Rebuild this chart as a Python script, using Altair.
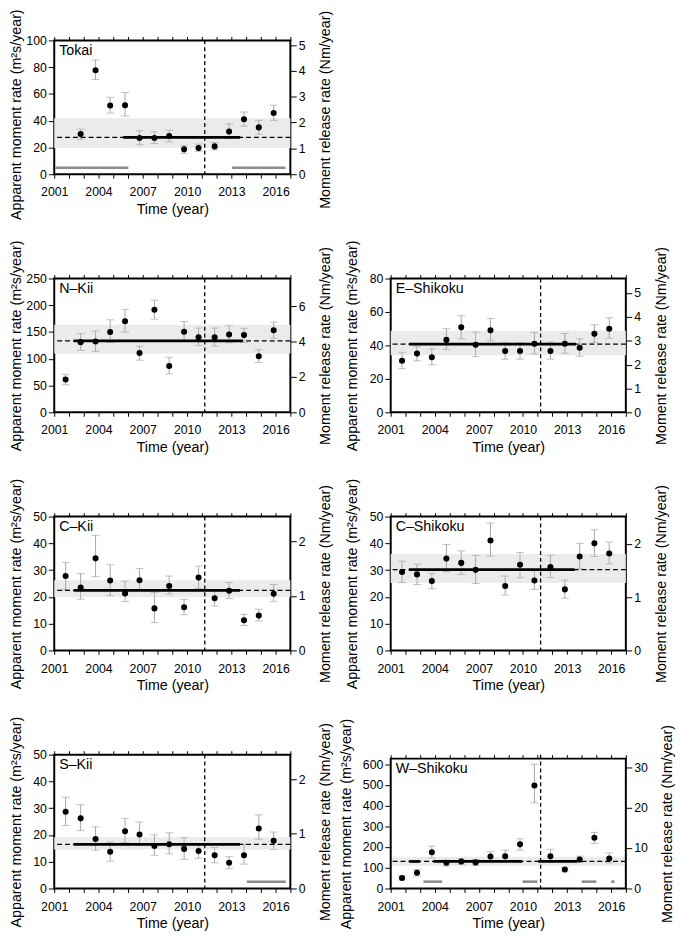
import altair as alt
import pandas as pd

FONT = "Liberation Sans"
LFS = 12.5   # tick label size
TFS = 14.5   # axis title size

# time of each estimate (year)
X = [2001.77, 2002.79, 2003.80, 2004.79, 2005.80, 2006.78, 2007.79, 2008.79,
     2009.80, 2010.78, 2011.87, 2012.85, 2013.86, 2014.86, 2015.87]
QUAKE = 2011.2

# ---- Tokai ----
tok_v = [None, 30.1, 77.7, 51.3, 51.6, 27.1, 27.1, 28.6, 18.6, 19.6, 20.8, 32.0, 41.1, 35.0, 45.7]
tok_lo = [None, 25.9, 70.7, 45.7, 43.5, 22.0, 23.0, 24.2, 15.6, 17.1, 18.1, 26.7, 35.9, 29.8, 40.3]
tok_hi = [None, 33.7, 85.3, 57.5, 61.1, 32.5, 31.8, 32.8, 21.5, 22.5, 23.7, 37.7, 46.5, 40.3, 51.6]
tok_band = [19.6, 41.8]
tok_mean = 27.6
tok_solid = [[2005.67, 2013.6]]
tok_bars = [[2001.07, 2006.02, 4.9], [2013.05, 2016.67, 4.9]]

# ---- N-Kii ----
nk_v = [61.3, 131.1, 132.4, 150.1, 170.3, 110.9, 191.8, 86.4, 150.7, 140.3, 140.3, 145.2, 144.6, 104.8, 153.2]
nk_lo = [51.5, 115.8, 114.0, 130.5, 150.1, 97.4, 174.0, 71.7, 133.6, 125.0, 123.8, 130.0, 130.5, 93.1, 138.5]
nk_hi = [71.0, 147.0, 152.0, 172.8, 192.4, 123.8, 209.6, 102.9, 169.7, 157.5, 157.5, 161.8, 156.9, 117.0, 168.5]
nk_band = [109.7, 163.6]
nk_mean = 133.6
nk_solid = [[2002.32, 2013.77]]

# ---- E-Shikoku ----
es_v = [30.8, 35.1, 32.9, 43.3, 50.8, 40.4, 49.0, 36.7, 36.7, 41.0, 36.7, 41.0, 38.6, 46.9, 50.0]
es_lo = [26.1, 30.8, 28.4, 37.5, 43.9, 33.3, 42.7, 31.8, 31.8, 34.9, 31.8, 35.3, 33.5, 41.8, 44.3]
es_hi = [35.9, 39.2, 38.0, 50.0, 57.8, 48.0, 56.1, 41.6, 41.6, 47.8, 42.0, 47.1, 43.9, 52.4, 56.5]
es_band = [34.1, 48.8]
es_mean = 40.8
es_solid = [[2002.25, 2013.61]]

# ---- C-Kii ----
ck_v = [27.8, 23.5, 34.4, 26.1, 21.3, 26.2, 15.7, 24.1, 16.1, 27.2, 19.5, 22.3, 11.3, 13.0, 21.2]
ck_lo = [22.7, 19.1, 27.6, 20.5, 18.3, 22.7, 10.4, 21.1, 13.3, 23.2, 16.6, 19.4, 9.3, 11.0, 18.2]
ck_hi = [32.9, 28.7, 43.0, 32.0, 25.9, 30.6, 21.7, 27.8, 19.1, 31.5, 22.3, 25.4, 13.5, 15.4, 24.6]
ck_band = [19.9, 26.2]
ck_mean = 22.4
ck_solid = [[2002.32, 2013.59]]

# ---- C-Shikoku ----
cs_v = [29.3, 28.4, 25.9, 34.3, 32.7, 30.1, 41.1, 24.1, 32.0, 26.1, 31.2, 22.8, 35.1, 40.0, 36.2]
cs_lo = [25.4, 24.6, 23.0, 29.4, 28.4, 25.0, 35.2, 20.7, 27.2, 22.8, 27.2, 19.5, 30.5, 35.1, 32.3]
cs_hi = [33.3, 32.2, 28.8, 39.6, 37.2, 35.5, 47.6, 27.8, 36.6, 29.9, 35.6, 26.3, 40.0, 45.1, 40.5]
cs_band = [25.2, 36.0]
cs_mean = 30.2
cs_solid = [[2002.25, 2013.52]]

# ---- S-Kii ----
sk_v = [28.7, 26.2, 18.5, 13.7, 21.4, 20.2, 15.9, 16.5, 14.8, 14.0, 12.4, 9.6, 12.4, 22.4, 17.8]
sk_lo = [23.5, 21.7, 14.3, 10.2, 17.2, 16.1, 12.4, 13.0, 10.9, 11.3, 9.6, 7.4, 9.1, 18.4, 14.6]
sk_hi = [34.1, 31.3, 23.0, 17.4, 26.2, 24.8, 20.0, 20.8, 19.0, 16.8, 15.3, 11.9, 16.5, 27.5, 21.1]
sk_band = [14.6, 19.1]
sk_mean = 16.5
sk_solid = [[2002.32, 2013.59]]
sk_bars = [[2014.06, 2016.69, 2.5]]

# ---- W-Shikoku ----
ws_v = [51, 76, 175, 124, 130.5, 126, 154, 156, 213, 497, 156, 92, 140, 245, 145]
ws_lo = [41, 60, 148, 108, 116, 111, 135, 130, 185, 414, 126, 80, 126, 218, 124]
ws_hi = [60, 92, 205, 137, 145, 140, 177, 185, 240, 600, 189, 103, 156, 271, 172]
ws_band = [110, 153]
ws_mean = 130.5
ws_solid = [[2002.26, 2003.0], [2003.9, 2009.95], [2011.05, 2013.7]]
ws_bars = [[2003.23, 2004.5, 33], [2009.97, 2010.98, 33], [2013.99, 2014.99, 33], [2016.0, 2016.23, 33]]

YEARS = list(range(2001, 2018))
LEFT_TITLE = "Apparent moment rate (m²s/year)"
RIGHT_TITLE = "Moment release rate (Nm/year)"

AXIS_STYLE = dict(labelFont=FONT, titleFont=FONT, labelFontSize=LFS, titleFontSize=TFS,
                  titleFontWeight="normal", labelColor="black", titleColor="black",
                  tickColor="black", tickWidth=1, domain=False, grid=False)


def panel(name, v, lo, hi, band, mean, solid, bars, ymax, yticks, rmax, rticks,
          width, height, top=0, lpad=9, ltitle_shift=0, rtitle_shift=0):
    idx = [i for i in range(len(X)) if v[i] is not None]
    pts = pd.DataFrame({"t": [X[i] for i in idx], "v": [v[i] for i in idx],
                        "lo": [lo[i] for i in idx], "hi": [hi[i] for i in idx]})
    xs = alt.Scale(domain=[2001, 2017], nice=False, zero=False)
    if top:
        ys = alt.Scale(domain=[0, ymax], nice=False, zero=False, range=[height, top])
        rs = alt.Scale(domain=[0, rmax], nice=False, zero=False, range=[height, top])
    else:
        ys = alt.Scale(domain=[0, ymax], nice=False, zero=False)
        rs = alt.Scale(domain=[0, rmax], nice=False, zero=False)

    xbottom = alt.Axis(orient="bottom", values=YEARS, format="d", labelFlush=False,
                       labelExpr="(datum.value - 2001) % 3 == 0 ? datum.label : ''",
                       title="Time (year)", tickSize=4, labelPadding=8, titlePadding=4,
                       **AXIS_STYLE)
    yl_kw = dict(orient="left", values=yticks, title=LEFT_TITLE,
                 tickSize=6, labelPadding=2, titlePadding=lpad)
    if ltitle_shift:
        yl_kw["titleY"] = height / 2 + ltitle_shift
    yleft = alt.Axis(**yl_kw, **AXIS_STYLE)
    xtop_kw = dict(orient="top", values=YEARS, labels=False, tickSize=4, title="")
    if top:
        xtop_kw["offset"] = -top
    xtop = alt.Axis(**xtop_kw, **AXIS_STYLE)
    yr_kw = dict(orient="right", values=rticks, title=RIGHT_TITLE, titleAngle=270,
                 titleBaseline="top", tickSize=6, labelPadding=2, titlePadding=14)
    if rtitle_shift:
        yr_kw["titleY"] = height / 2 + rtitle_shift
    yright = alt.Axis(**yr_kw, **AXIS_STYLE)

    band_df = pd.DataFrame({"x1": [2001], "x2": [2017], "y1": [band[0]], "y2": [band[1]]})
    layers = [alt.Chart(band_df).mark_rect(color="#ebebeb").encode(
        x=alt.X("x1:Q", scale=xs, axis=xbottom), x2="x2:Q",
        y=alt.Y("y1:Q", scale=ys, axis=yleft), y2="y2:Q")]

    if bars:
        bars_df = pd.DataFrame({"a": [b[0] for b in bars], "b": [b[1] for b in bars],
                                "y": [b[2] for b in bars]})
        layers.append(alt.Chart(bars_df).mark_rule(color="#8c8c8c", strokeWidth=2.6).encode(
            x=alt.X("a:Q", scale=xs, axis=None), x2="b:Q",
            y=alt.Y("y:Q", scale=ys, axis=None)))

    layers.append(alt.Chart(pts).mark_rule(color="#a6a6a6", strokeWidth=1).encode(
        x=alt.X("t:Q", scale=xs, axis=None),
        y=alt.Y("lo:Q", scale=ys, axis=None), y2="hi:Q"))
    layers.append(alt.Chart(pts).transform_fold(["lo", "hi"], as_=["k", "e"]).mark_tick(
        orient="horizontal", size=8, thickness=1, color="#a6a6a6").encode(
        x=alt.X("t:Q", scale=xs, axis=None),
        y=alt.Y("e:Q", scale=ys, axis=None)))

    mean_df = pd.DataFrame({"m": [mean]})
    layers.append(alt.Chart(mean_df).mark_rule(color="black", strokeWidth=1.3,
                                               strokeDash=[5, 3]).encode(
        y=alt.Y("m:Q", scale=ys, axis=None)))
    q_df = pd.DataFrame({"e": [QUAKE]})
    layers.append(alt.Chart(q_df).mark_rule(color="black", strokeWidth=1.3,
                                            strokeDash=[4, 3]).encode(
        x=alt.X("e:Q", scale=xs, axis=None)))
    solid_df = pd.DataFrame({"a": [s[0] for s in solid], "b": [s[1] for s in solid],
                             "m": [mean] * len(solid)})
    layers.append(alt.Chart(solid_df).mark_rule(color="black", strokeWidth=2.8).encode(
        x=alt.X("a:Q", scale=xs, axis=None), x2="b:Q",
        y=alt.Y("m:Q", scale=ys, axis=None)))
    layers.append(alt.Chart(pts).mark_circle(size=38, color="black", opacity=1).encode(
        x=alt.X("t:Q", scale=xs, axis=None),
        y=alt.Y("v:Q", scale=ys, axis=None)))
    if top:
        fr_df = pd.DataFrame({"x1": [2001], "x2": [2017], "y1": [0], "y2": [ymax]})
        layers.append(alt.Chart(fr_df).mark_rect(fillOpacity=0, stroke="black",
                                                 strokeWidth=2).encode(
            x=alt.X("x1:Q", scale=xs, axis=None), x2="x2:Q",
            y=alt.Y("y1:Q", scale=ys, axis=None), y2="y2:Q"))
    lab_df = pd.DataFrame({"n": [name]})
    layers.append(alt.Chart(lab_df).mark_text(align="left", baseline="top", fontSize=14.5,
                                              font=FONT, color="black").encode(
        x=alt.value(5), y=alt.value(4 + top), text="n:N"))

    r_df = pd.DataFrame({"x": [2001.0], "r": [0.0]})
    layers.append(alt.Chart(r_df).mark_point(opacity=0).encode(
        x=alt.X("x:Q", scale=xs, axis=xtop),
        y=alt.Y("r:Q", scale=rs, axis=yright)))
    ch = alt.layer(*layers).resolve_scale(y="independent").resolve_axis(
        x="independent", y="independent")
    props = dict(width=width, height=height)
    if top:
        props["view"] = alt.ViewBackground(strokeWidth=0)
    return ch.properties(**props)


WL, WR, H = 240, 239, 136
tokai = panel("Tokai", tok_v, tok_lo, tok_hi, tok_band, tok_mean, tok_solid, tok_bars,
              100, [0, 20, 40, 60, 80, 100], 5.18, [0, 1, 2, 3, 4, 5], WL, H,
              lpad=2, ltitle_shift=7, rtitle_shift=2)
nkii = panel("N–Kii", nk_v, nk_lo, nk_hi, nk_band, nk_mean, nk_solid, [],
             250, [0, 50, 100, 150, 200, 250], 7.56, [0, 2, 4, 6], WL, H, lpad=2)
eshi = panel("E–Shikoku", es_v, es_lo, es_hi, es_band, es_mean, es_solid, [],
             80, [0, 20, 40, 60, 80], 5.61, [0, 1, 2, 3, 4, 5], WR, H, lpad=10)
ckii = panel("C–Kii", ck_v, ck_lo, ck_hi, ck_band, ck_mean, ck_solid, [],
             50, [0, 10, 20, 30, 40, 50], 2.46, [0, 1, 2], WL, H, lpad=9)
cshi = panel("C–Shikoku", cs_v, cs_lo, cs_hi, cs_band, cs_mean, cs_solid, [],
             50, [0, 10, 20, 30, 40, 50], 2.515, [0, 1, 2], WR, H, lpad=10)
skii = panel("S–Kii", sk_v, sk_lo, sk_hi, sk_band, sk_mean, sk_solid, sk_bars,
             50, [0, 10, 20, 30, 40, 50], 2.45, [0, 1, 2], WL, H, lpad=9)
wshi = panel("W–Shikoku", ws_v, ws_lo, ws_hi, ws_band, ws_mean, ws_solid, ws_bars,
             627, [0, 100, 200, 300, 400, 500, 600], 32.1, [0, 10, 20, 30], WR, H, top=4,
             lpad=9)

blank = alt.Chart(pd.DataFrame({"a": [0]})).mark_point(opacity=0).encode(
    x=alt.X("a:Q", axis=None), y=alt.Y("a:Q", axis=None)).properties(
    width=WR, height=H, view=alt.ViewBackground(strokeWidth=0))

chart = alt.concat(tokai, blank, nkii, eshi, ckii, cshi, skii, wshi, columns=2,
                   spacing={"row": 106, "column": 102}, bounds="flush",
                   padding={"left": 0, "top": -8.7, "right": 2, "bottom": 2}).configure_axis(
    **AXIS_STYLE
).configure_view(stroke="black", strokeWidth=2)

chart.save("out.html", embed_options={"renderer": "svg", "actions": False})
